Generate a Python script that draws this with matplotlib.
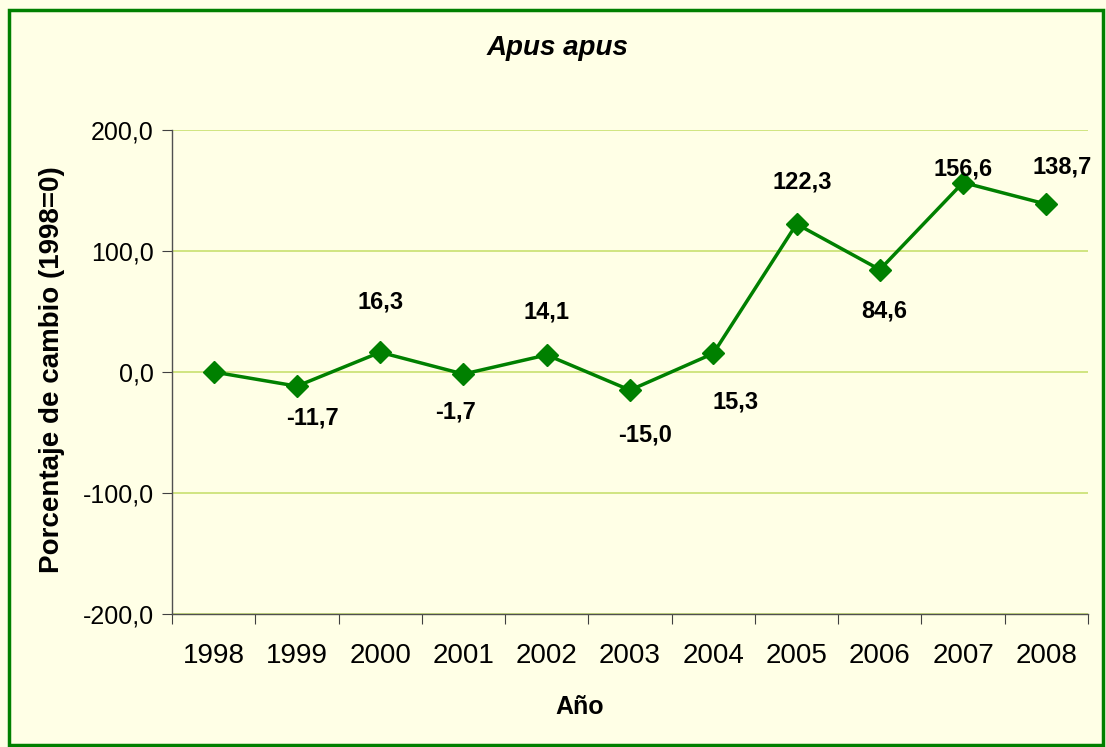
import matplotlib
matplotlib.use("Agg")
import matplotlib.pyplot as plt
from matplotlib.patches import Rectangle

years = ["1998", "1999", "2000", "2001", "2002", "2003", "2004", "2005", "2006", "2007", "2008"]
values = [0.0, -11.7, 16.3, -1.7, 14.1, -15.0, 15.3, 122.3, 84.6, 156.6, 138.7]
labels = [None, "-11,7", "16,3", "-1,7", "14,1", "-15,0", "15,3", "122,3", "84,6", "156,6", "138,7"]
# label offsets from the marker in points (dx, dy)
label_dx = [0, 11, 0, -6, 0, 11, 16, 4, 3, 0, 11]
label_dy = [0, -23, 36, -27, 31, -32, -35, 30, -30, 10, 27]

plt.rcParams['font.family'] = ['Liberation Sans', 'DejaVu Sans']
W, H = 1106, 747
fig = plt.figure(figsize=(W / 100, H / 100), dpi=100)
bg = '#FFFFE6'
fig.patch.set_facecolor(bg)

ax = fig.add_axes([172 / W, (H - 614) / H, 916 / W, 484 / H])
ax.set_facecolor(bg)

x = [i + 0.5 for i in range(len(years))]
ax.plot(x, values, color='#008000', lw=2.5, marker='D', ms=11.5, mfc='#008000', mec='#008000', zorder=3)

for xi, v, lab, dx, dy in zip(x, values, labels, label_dx, label_dy):
    if lab:
        ax.annotate(lab, (xi, v), xytext=(dx, dy), textcoords='offset points',
                    ha='center', va='center', fontsize=17, fontweight='bold',
                    annotation_clip=False)

ax.set_xlim(0, len(years))
ax.set_ylim(-200, 200)
ax.set_yticks([-200, -100, 0, 100, 200])
ax.set_yticklabels(["-200,0", "-100,0", "0,0", "100,0", "200,0"], fontsize=18)
ax.yaxis.grid(True, color='#C8E070', lw=1.2)
ax.set_axisbelow(True)

ax.set_xticks(range(len(years) + 1))
ax.set_xticklabels([])
ax.set_xticks(x, minor=True)
ax.set_xticklabels(years, minor=True, fontsize=20)
ax.tick_params(axis='x', which='major', length=7, direction='out', color='#404040')
ax.tick_params(axis='x', which='minor', length=0, pad=21)
ax.tick_params(axis='y', length=7, direction='out', color='#404040', pad=6)

for s in ['top', 'right']:
    ax.spines[s].set_visible(False)
for s in ['left', 'bottom']:
    ax.spines[s].set_color('#505050')
    ax.spines[s].set_linewidth(1.0)

fig.text(557 / W, 1 - 48 / H, "Apus apus", ha='center', va='center',
         fontsize=20, fontweight='bold', fontstyle='italic')
fig.text(580 / W, 1 - 707 / H, "Año", ha='center', va='center', fontsize=18, fontweight='bold')
fig.text(52 / W, 1 - 370 / H, "Porcentaje de cambio (1998=0)", ha='center', va='center',
         rotation=90, fontsize=20, fontweight='bold')

fig.patches.append(Rectangle((8.5 / W, 2 / H), (1103 - 8.5) / W, (H - 12) / H,
                             transform=fig.transFigure, fill=False,
                             edgecolor='#008000', lw=2.5))

fig.savefig("out.png", dpi=100, facecolor=bg)
